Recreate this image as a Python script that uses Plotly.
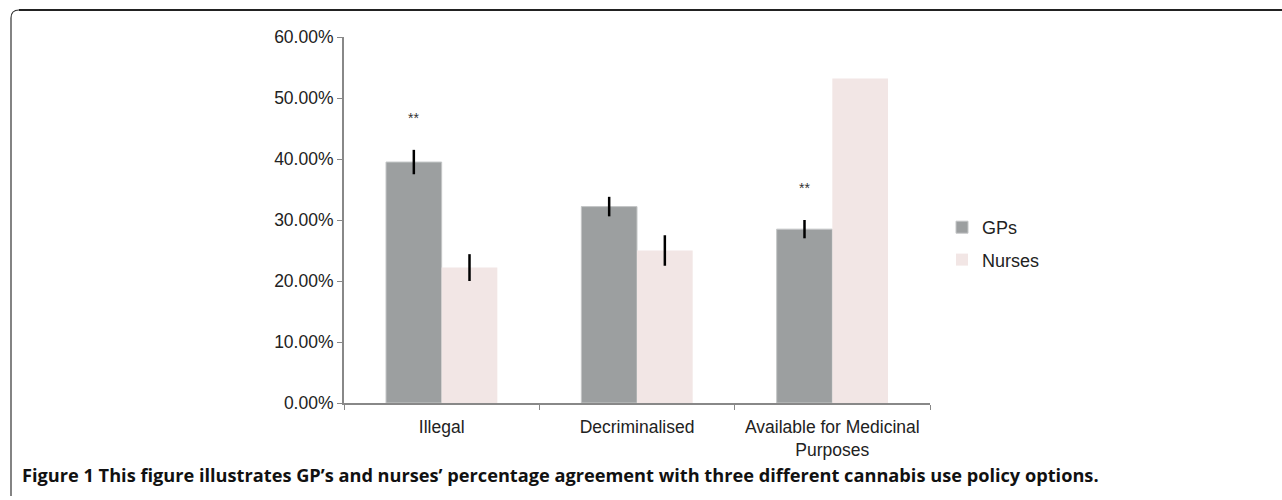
import plotly.graph_objects as go

categories = ["Illegal", "Decriminalised", "Available for Medicinal<br>Purposes"]
gps = [0.395, 0.322, 0.285]
gps_err = [0.020, 0.016, 0.015]
nurses = [0.222, 0.250, 0.532]
nurses_err = [0.022, 0.025, 0.0]
star_y = [0.468, None, 0.352]
caption = "Figure 1 This figure illustrates GP\u2019s and nurses\u2019 percentage agreement with three different cannabis use policy options."

L, R, T, B = 344, 352, 37, 97
W, H = 1282, 500
pw, ph = W - L - R, H - T - B

def px(x):
    return (x - L) / pw

def py(y):
    return (H - B - y) / ph

fig = go.Figure()
fig.add_trace(go.Bar(
    x=categories, y=gps, name="GPs", marker=dict(color="#9c9fa0", line=dict(color="#c4c6c7", width=1)),
    error_y=dict(type="data", array=gps_err, visible=True, color="black", thickness=2.5, width=0),
    legendgroup="g1",
))
fig.add_trace(go.Bar(
    x=categories, y=nurses, name="Nurses", marker=dict(color="#f2e6e5", line=dict(width=0)),
    error_y=dict(type="data", array=nurses_err, visible=True, color="black", thickness=2.5, width=0),
    legendgroup="g2",
))

for c, s in zip(categories, star_y):
    if s is not None:
        fig.add_annotation(x=c, y=s, text="**", showarrow=False, xshift=-28,
                           font=dict(size=14, color="#333", family="Liberation Sans, Arial"))

fig.add_annotation(x=px(20), y=py(475), xref="paper", yref="paper", xanchor="left", yanchor="middle",
                   text="<b>" + caption + "</b>", showarrow=False,
                   font=dict(size=18.2, color="#111", family="Open Sans"))

# frame
r = 8
x0, y0, yb, x1 = px(11), py(10), py(496), px(1290)
fig.add_shape(type="path", xref="paper", yref="paper",
              path=f"M {x0},{yb} L {x0},{py(10 + r)} Q {x0},{y0} {px(11 + r)},{y0}",
              line=dict(color="#333", width=1.2))
fig.add_shape(type="line", xref="paper", yref="paper", x0=px(11 + r), x1=x1, y0=y0, y1=y0,
              line=dict(color="#222", width=2))

fig.update_layout(
    width=W, height=H, margin=dict(l=L, r=R, t=T, b=B, autoexpand=False),
    plot_bgcolor="white", paper_bgcolor="white",
    barmode="group", bargap=0.43, bargroupgap=0,
    font=dict(family="Liberation Sans, Arial", size=17.5, color="#222"),
    legend=dict(x=px(942), y=py(209), xanchor="left", yanchor="top", tracegroupgap=6,
                font=dict(size=18, color="#222"), itemwidth=30, bgcolor="rgba(0,0,0,0)"),
    xaxis=dict(range=[-0.5, 2.5], showline=True, linecolor="#888", linewidth=2,
               ticks="outside", tickson="boundaries", ticklen=5, tickcolor="#888", tickwidth=1,
               showgrid=False, ticklabelstandoff=7, tickfont=dict(size=17.5, color="#222")),
    yaxis=dict(range=[0, 0.6], tickformat=".2%", dtick=0.1, showline=True, linecolor="#888", linewidth=2,
               ticks="outside", ticklen=5, tickcolor="#888", tickwidth=1, showgrid=False,
               zeroline=False, tickfont=dict(size=17.5, color="#222")),
)

fig.write_html("out.html", config={"displayModeBar": False},
               post_script="document.body.style.margin='0';document.body.style.overflow='hidden';")
